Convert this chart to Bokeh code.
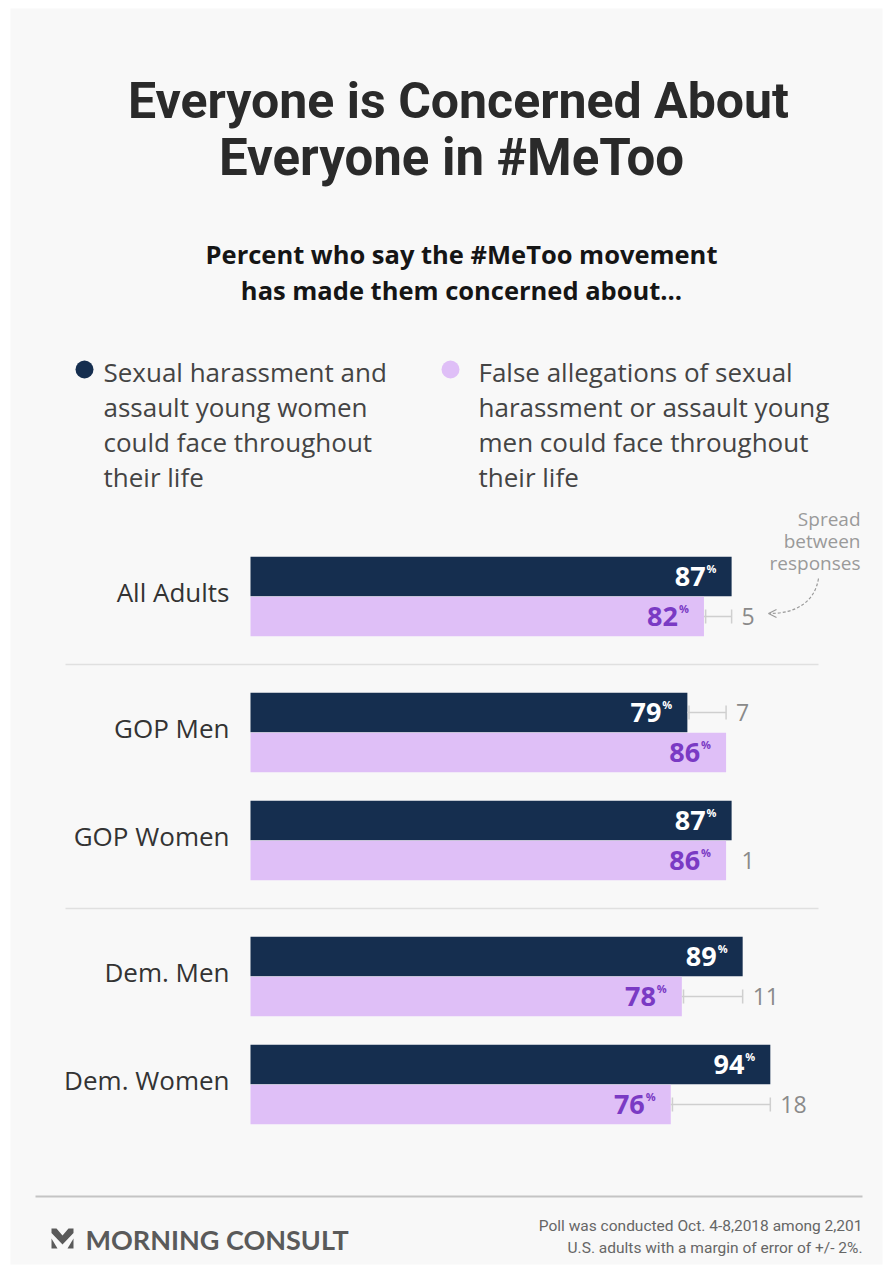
from bokeh.plotting import figure
from bokeh.models import Range1d, Label
from bokeh.core.properties import value
from bokeh.embed import file_html
from bokeh.resources import INLINE

# ---------------- data ----------------
categories = ["All Adults", "GOP Men", "GOP Women", "Dem. Men", "Dem. Women"]
party = ["All", "GOP", "GOP", "Dem", "Dem"]
harassment = [87, 79, 87, 89, 94]          # concerned about harassment of young women
false_alleg = [82, 86, 86, 78, 76]         # concerned about false allegations against young men
series_names = [
    ["Sexual harassment and", "assault young women", "could face throughout", "their life"],
    ["False allegations of sexual", "harassment or assault young", "men could face throughout", "their life"],
]

NAVY = "#152e4f"
LAV = "#dfbff7"
PURPLE_TXT = "#7a3ac4"
GRAY_NUM = "#8a8a8a"

W, H = 892, 1270
ORIGIN = 250.0   # pixel where value 0 sits
K = 5.53         # pixels per percentage point


def px(x):
    """pixel x -> data x (layout helper for annotations)"""
    return (x - ORIGIN) / K


p = figure(width=W, height=H, x_range=Range1d(px(0), px(W)), y_range=Range1d(H, 0),
           x_axis_type=None, y_axis_type=None, toolbar_location=None,
           output_backend="svg", min_border=0, outline_line_color=None,
           background_fill_color="white", border_fill_color="white")
p.grid.visible = False

# card background
p.quad(left=px(10), right=px(882), top=8, bottom=1264, fill_color="#f8f8f8", line_color=None)

# ---------------- layout of groups ----------------
seps = []
count = 0
for i in range(len(party)):
    if i > 0 and party[i] != party[i - 1]:
        count += 1
    seps.append(count)
centers = [596 + i * 108 + s * 28 for i, s in enumerate(seps)]
navy_y = [c - 20 for c in centers]
lav_y = [c + 20 for c in centers]

# separators
for i in range(1, len(party)):
    if party[i] != party[i - 1]:
        ys = (centers[i] + centers[i - 1]) / 2
        p.line(x=[px(65), px(818)], y=[ys, ys], line_color="#e0e0e0", line_width=1.5)

# bars
p.hbar(y=navy_y, left=0, right=harassment, height=39.5, fill_color=NAVY, line_color=None)
p.hbar(y=lav_y, left=0, right=false_alleg, height=39.5, fill_color=LAV, line_color=None)

FONT = value("Open Sans")

# value labels
p.text(x=harassment, y=navy_y, text=[str(v) for v in harassment], x_offset=-26, y_offset=0,
       text_align="right", text_baseline="middle", text_font=FONT, text_font_style="bold",
       text_font_size="27px", text_color="white")
p.text(x=harassment, y=navy_y, text=["%"] * len(harassment), x_offset=-25, y_offset=-8,
       text_align="left", text_baseline="middle", text_font=FONT, text_font_style="bold",
       text_font_size="11px", text_color="white")
p.text(x=false_alleg, y=lav_y, text=[str(v) for v in false_alleg], x_offset=-26, y_offset=0,
       text_align="right", text_baseline="middle", text_font=FONT, text_font_style="bold",
       text_font_size="27px", text_color=PURPLE_TXT)
p.text(x=false_alleg, y=lav_y, text=["%"] * len(false_alleg), x_offset=-25, y_offset=-8,
       text_align="left", text_baseline="middle", text_font=FONT, text_font_style="bold",
       text_font_size="11px", text_color=PURPLE_TXT)

# category labels
p.text(x=[0] * len(categories), y=centers, text=categories, x_offset=-21, y_offset=-5,
       text_align="right", text_baseline="middle", text_font=FONT,
       text_font_size="26px", text_color="#333333")

# spreads
lo = [min(a, b) for a, b in zip(harassment, false_alleg)]
hi = [max(a, b) for a, b in zip(harassment, false_alleg)]
spread = [h - l for h, l in zip(hi, lo)]
sy = [ny if a < b else ly for a, b, ny, ly in zip(harassment, false_alleg, navy_y, lav_y)]
idx = [i for i in range(len(spread)) if spread[i] > 1]
p.segment(x0=[lo[i] for i in idx], x1=[hi[i] for i in idx], y0=[sy[i] for i in idx],
          y1=[sy[i] for i in idx], line_color="#cfcfcf", line_width=1.5)
p.segment(x0=[lo[i] + 0.3 for i in idx], x1=[lo[i] + 0.3 for i in idx],
          y0=[sy[i] - 7 for i in idx], y1=[sy[i] + 7 for i in idx], line_color="#cfcfcf", line_width=1.5)
p.segment(x0=[hi[i] for i in idx], x1=[hi[i] for i in idx],
          y0=[sy[i] - 7 for i in idx], y1=[sy[i] + 7 for i in idx], line_color="#cfcfcf", line_width=1.5)
p.text(x=hi, y=sy, text=[str(s) for s in spread], x_offset=10, y_offset=0,
       text_align="left", text_baseline="middle", text_font=FONT,
       text_font_size="23px", text_color=GRAY_NUM)

# spread note
for t, yy in zip(["Spread", "between", "responses"], [518, 540, 562]):
    p.add_layout(Label(x=px(860), y=yy, text=t, text_align="right", text_baseline="middle",
                       text_font="Open Sans", text_font_size="19px", text_color="#9a9a9a"))
p.bezier(x0=[px(818)], y0=[578], x1=[px(769)], y1=[613], cx0=[px(814)], cy0=[602],
         cx1=[px(795)], cy1=[613], line_color="#9a9a9a", line_width=1.2, line_dash="3 2")
p.line(x=[px(776), px(768), px(776)], y=[609, 613, 617], line_color="#9a9a9a", line_width=1.2)

# title & subtitle
p.add_layout(Label(x=px(458), y=100, text="Everyone is Concerned About", text_align="center",
                   text_baseline="middle", text_font="Roboto", text_font_style="bold",
                   text_font_size="50px", text_color="#2a2a2a"))
p.add_layout(Label(x=px(451), y=157, text="Everyone in #MeToo", text_align="center",
                   text_baseline="middle", text_font="Roboto", text_font_style="bold",
                   text_font_size="51px", text_color="#2a2a2a"))
p.add_layout(Label(x=px(461), y=253, text="Percent who say the #MeToo movement", text_align="center",
                   text_baseline="middle", text_font="Open Sans", text_font_style="bold",
                   text_font_size="25.5px", text_color="#151515"))
p.add_layout(Label(x=px(461), y=289, text="has made them concerned about...", text_align="center",
                   text_baseline="middle", text_font="Open Sans", text_font_style="bold",
                   text_font_size="25.5px", text_color="#151515"))

# legend
p.scatter(x=[px(84), px(450)], y=[369, 369], size=18, fill_color=[NAVY, LAV], line_color=None)
for lines, x0 in zip(series_names, [103, 478]):
    for j, t in enumerate(lines):
        p.add_layout(Label(x=px(x0), y=371 + j * 35, text=t, text_align="left",
                           text_baseline="middle", text_font="Open Sans",
                           text_font_size="26px", text_color="#444444"))

# footer
p.line(x=[px(35), px(862)], y=[1196, 1196], line_color="#c4c4c4", line_width=2)
p.patch(x=[px(v) for v in [51, 56, 62, 68, 73, 73, 62, 51]],
        y=[1228, 1228, 1235, 1228, 1228, 1232.5, 1244, 1232.5], fill_color="#5a5a5a", line_color=None)
p.patch(x=[px(v) for v in [51, 57, 51]], y=[1238, 1248, 1248], fill_color="#5a5a5a", line_color=None)
p.patch(x=[px(v) for v in [73, 67, 73]], y=[1238, 1248, 1248], fill_color="#5a5a5a", line_color=None)
p.add_layout(Label(x=px(85), y=1239, text="MORNING CONSULT", text_align="left",
                   text_baseline="middle", text_font="Lato", text_font_style="bold",
                   text_font_size="27px", text_color="#5a5a5a"))
p.add_layout(Label(x=px(862), y=1225, text="Poll was conducted Oct. 4-8,2018 among 2,201",
                   text_align="right", text_baseline="middle", text_font="Roboto",
                   text_font_size="15.5px", text_color="#666666"))
p.add_layout(Label(x=px(862), y=1247, text="U.S. adults with a margin of error of +/- 2%.",
                   text_align="right", text_baseline="middle", text_font="Roboto",
                   text_font_size="15.5px", text_color="#666666"))

open("out.html", "w").write(file_html(p, INLINE))
